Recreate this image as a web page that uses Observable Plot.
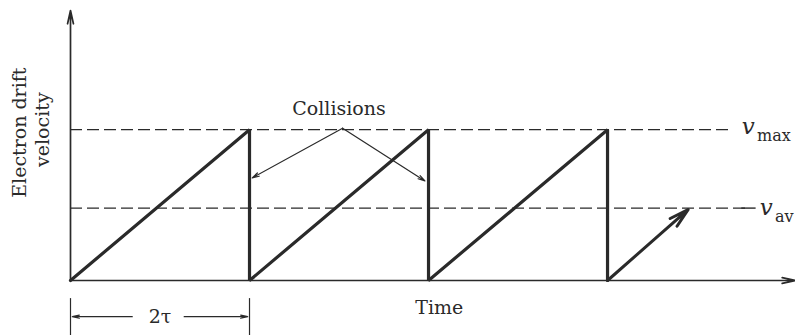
<!DOCTYPE html>
<html><head><meta charset="utf-8">
<script src="https://cdn.jsdelivr.net/npm/d3@7"></script>
<script src="https://cdn.jsdelivr.net/npm/@observablehq/plot@0.6"></script>
<style>body{margin:0;background:#fff} svg{display:block}</style>
</head><body><div id="chart"></div>
<script>
// Time in units of tau, velocity in units of v_max
const sawTime = [0, 2, 2, 4, 4, 6, 6];
const sawVel  = [0, 1, 0, 1, 0, 1, 0];
const lastRampTime = [6, 6.9];
const lastRampVel  = [0, 0.47];
const vMax = 1;
const vAv = 0.48;
const timeMax = 8.1;
const velTop = 1.79;
const collisionFrom = {t: 3.04, v: 1.01};
const collisionTo = [{t: 2.03, v: 0.68}, {t: 3.96, v: 0.66}];
const labels = {collisions: "Collisions", time: "Time", yLine1: "Electron drift", yLine2: "velocity", period: "2τ", vSym: "v", vMaxSub: "max", vAvSub: "av"};

const ink = "#2a2a2a";
const saw = sawTime.map((t, i) => ({t, v: sawVel[i]}));

const chart = Plot.plot({
  width: 795, height: 335,
  x: {domain: [0, timeMax], range: [70, 795], axis: null},
  y: {domain: [0, velTop], range: [280, 10], axis: null},
  style: {fontFamily: "'DejaVu Serif', serif", background: "white", color: ink},
  marks: [
    // dashed reference levels
    Plot.ruleY([vMax], {x1: 0, x2: 7.4, stroke: ink, strokeWidth: 1.4, strokeDasharray: "12,5"}),
    Plot.ruleY([vAv], {x1: 0, x2: 7.55, stroke: ink, strokeWidth: 1.4, strokeDasharray: "12,5"}),
    Plot.ruleY([vAv], {x1: 7.5, x2: 7.66, stroke: ink, strokeWidth: 1.4}),
    // axes
    Plot.arrow([0], {x1: 0, y1: 0, x2: 0, y2: velTop, stroke: ink, strokeWidth: 1.7, headLength: 12, headAngle: 25}),
    Plot.arrow([0], {x1: 0, y1: 0, x2: timeMax, y2: 0, stroke: ink, strokeWidth: 1.7, headLength: 12, headAngle: 25}),
    // sawtooth
    Plot.line(saw, {x: "t", y: "v", stroke: ink, strokeWidth: 3.2, strokeLinejoin: "miter"}),
    Plot.arrow([0], {x1: lastRampTime[0], y1: lastRampVel[0], x2: lastRampTime[1], y2: lastRampVel[1], stroke: ink, strokeWidth: 3, headLength: 10, headAngle: 30}),
    // collisions annotation
    Plot.arrow(collisionTo, {x1: collisionFrom.t, y1: collisionFrom.v, x2: "t", y2: "v", stroke: ink, strokeWidth: 1.2, headLength: 9, headAngle: 30}),
    Plot.text([labels.collisions], {x: 3.0, y: 1.14, text: d => d, fontSize: 19, fill: ink}),
    // v labels
    Plot.text([labels.vSym], {x: 7.5, y: vMax + 0.02, text: d => d, fontSize: 23, fontStyle: "italic", textAnchor: "start", fill: ink}),
    Plot.text([labels.vMaxSub], {x: 7.67, y: vMax - 0.04, text: d => d, fontSize: 16, textAnchor: "start", fill: ink}),
    Plot.text([labels.vSym], {x: 7.7, y: vAv + 0.0, text: d => d, fontSize: 23, fontStyle: "italic", textAnchor: "start", fill: ink}),
    Plot.text([labels.vAvSub], {x: 7.87, y: vAv - 0.06, text: d => d, fontSize: 16, textAnchor: "start", fill: ink}),
    // axis titles
    Plot.text([labels.time], {x: 4.12, y: -0.185, text: d => d, fontSize: 19, fill: ink}),
    Plot.text([labels.yLine1], {x: -0.57, y: 0.98, text: d => d, fontSize: 19, rotate: -90, fill: ink}),
    Plot.text([labels.yLine2], {x: -0.31, y: 1.0, text: d => d, fontSize: 19, rotate: -90, fill: ink}),
    // 2 tau dimension
    Plot.ruleX([0, 2], {y1: -0.12, y2: -0.37, stroke: ink, strokeWidth: 1.2}),
    Plot.arrow([0], {x1: 0.69, y1: -0.24, x2: 0.02, y2: -0.24, stroke: ink, strokeWidth: 1.2, headLength: 9, headAngle: 25}),
    Plot.arrow([0], {x1: 1.27, y1: -0.24, x2: 1.98, y2: -0.24, stroke: ink, strokeWidth: 1.2, headLength: 9, headAngle: 25}),
    Plot.text([labels.period], {x: 1.0, y: -0.24, text: d => d, fontSize: 19, fill: ink})
  ]
});
document.getElementById("chart").appendChild(chart);
</script></body></html>
